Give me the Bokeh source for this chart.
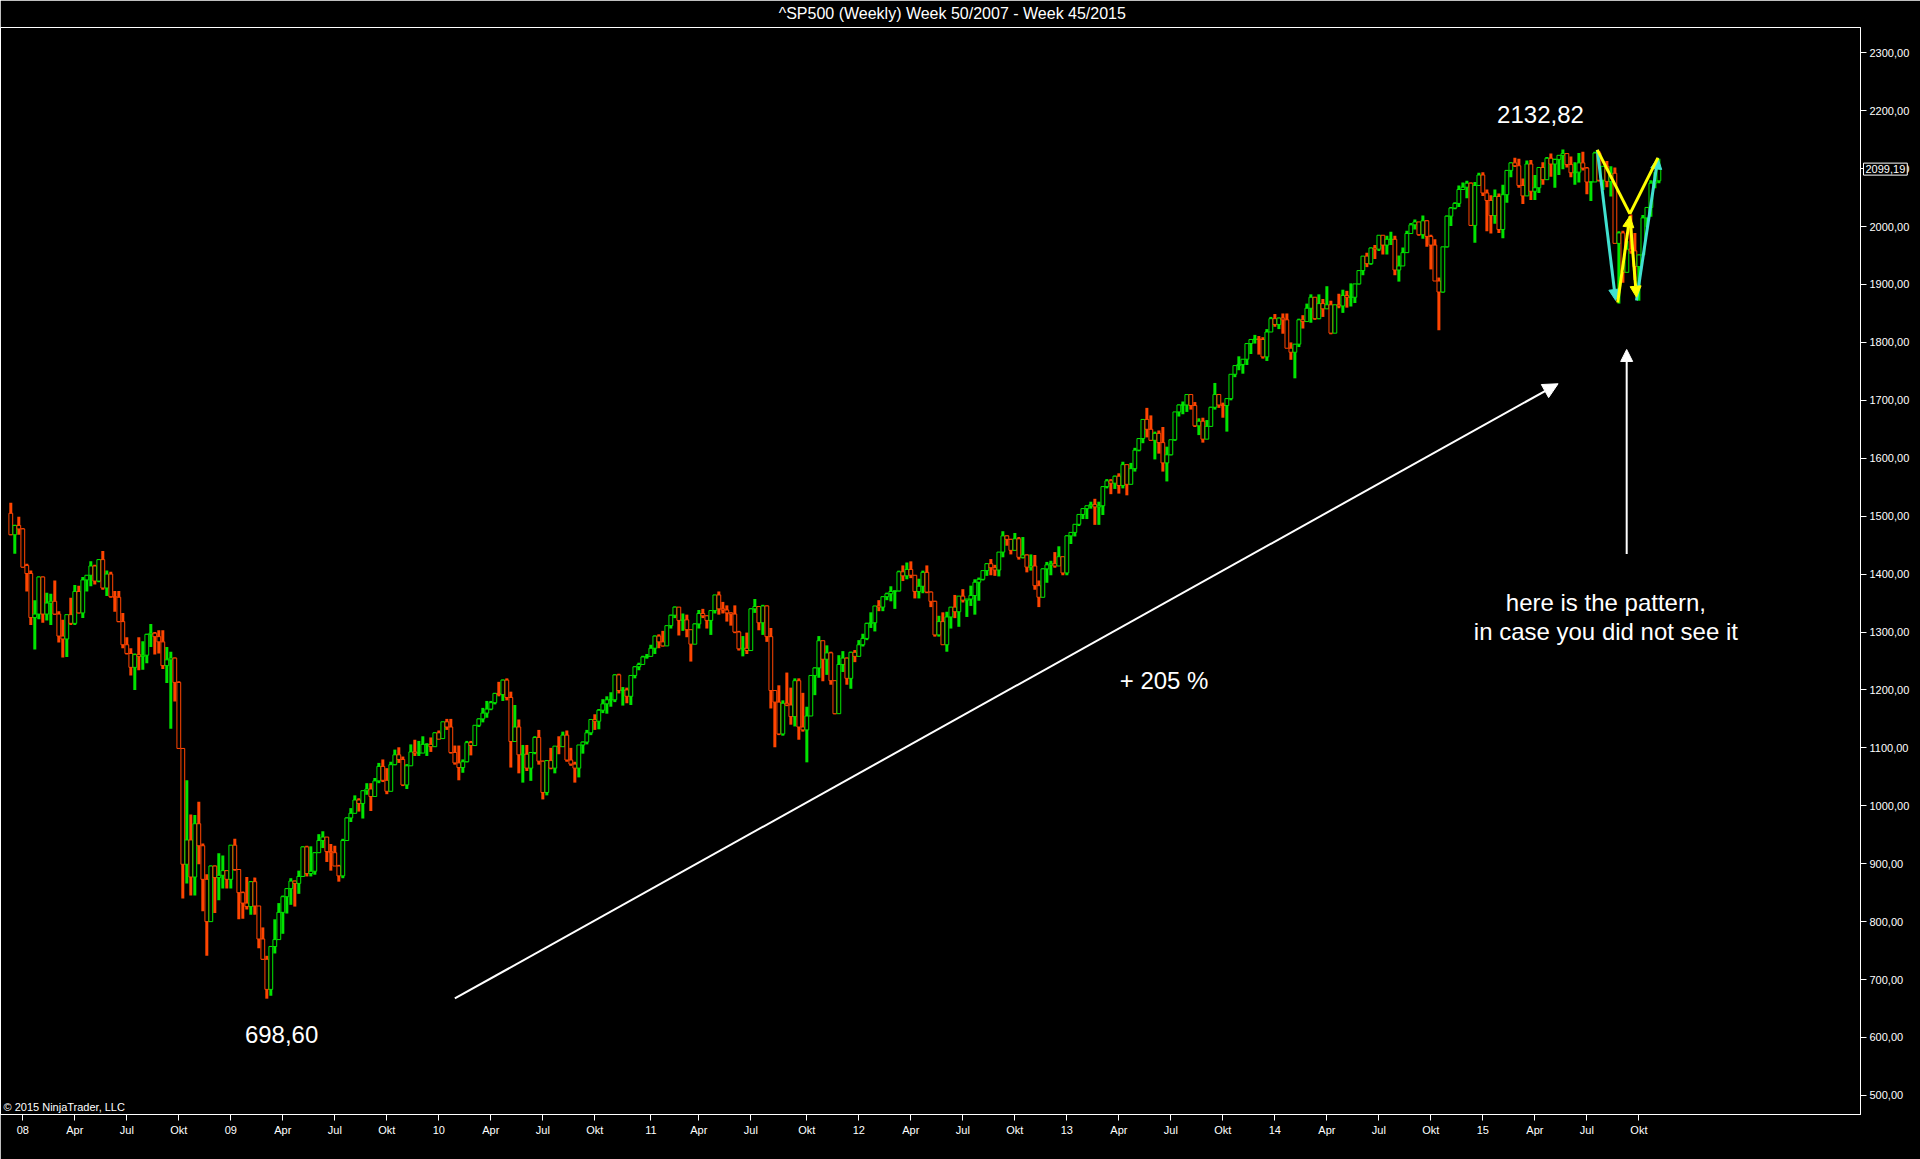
import pandas as pd
from bokeh.plotting import figure
from bokeh.models import (Range1d, SingleIntervalTicker, FixedTicker, CustomJSTickFormatter,
                          Label, Arrow, NormalHead, ColumnDataSource)
from bokeh.embed import file_html
from bokeh.resources import INLINE

# ---------------- data (weekly S&P 500, week 50/2007 .. week 45/2015) ----------------
FIRST_FRIDAY = "2007-12-14"
MONTH_LABELS = {4: "Apr", 7: "Jul", 10: "Okt"}

opens = [
    1505, 1468, 1484,
    # 2008
    1478, 1415, 1401, 1325, 1331, 1395, 1331, 1350, 1353, 1331, 1293, 1288, 1330, 1315, 1370, 1333, 1390, 1398,
    1414, 1388, 1425, 1376, 1400, 1361, 1360, 1318, 1278, 1263, 1239, 1261, 1258, 1260, 1296, 1298, 1292, 1283,
    1242, 1252, 1255, 1213, 1099, 899, 941, 877, 969, 931, 873, 800, 896, 876, 880, 888,
    # 2009
    873, 932, 890, 850, 832, 826, 869, 827, 770, 735, 683, 757, 769, 816, 843, 857, 870, 866, 878, 929, 883, 887,
    919, 940, 946, 921, 919, 896, 879, 940, 979, 987, 1010, 1004, 1026, 1029, 1016, 1043, 1068, 1044, 1025, 1071,
    1088, 1080, 1036, 1069, 1093, 1091, 1091, 1106, 1106, 1102, 1126,
    # 2010
    1116, 1145, 1136, 1092, 1074, 1066, 1076, 1109, 1104, 1139, 1150, 1160, 1167, 1178, 1194, 1192, 1217, 1187,
    1111, 1136, 1088, 1089, 1065, 1092, 1118, 1077, 1023, 1078, 1065, 1103, 1102, 1122, 1079, 1072, 1065, 1105,
    1110, 1126, 1149, 1146, 1165, 1176, 1183, 1183, 1226, 1199, 1200, 1189, 1225, 1240, 1244, 1257,
    # 2011
    1258, 1272, 1293, 1283, 1276, 1311, 1329, 1343, 1320, 1321, 1304, 1279, 1314, 1332, 1328, 1320, 1337, 1364,
    1340, 1338, 1333, 1331, 1300, 1271, 1272, 1268, 1340, 1344, 1316, 1345, 1292, 1199, 1179, 1124, 1177, 1174,
    1154, 1216, 1136, 1131, 1155, 1225, 1238, 1285, 1253, 1264, 1216, 1159, 1244, 1255, 1220, 1265,
    # 2012
    1258, 1278, 1289, 1315, 1316, 1345, 1343, 1361, 1366, 1370, 1371, 1404, 1397, 1408, 1398, 1370, 1379, 1403,
    1369, 1353, 1295, 1318, 1278, 1326, 1343, 1335, 1362, 1355, 1357, 1363, 1386, 1391, 1406, 1418, 1411, 1407,
    1438, 1466, 1460, 1441, 1461, 1429, 1433, 1412, 1414, 1380, 1360, 1409, 1416, 1418, 1414, 1430,
    # 2013
    1402, 1466, 1472, 1486, 1503, 1513, 1518, 1520, 1516, 1518, 1551, 1561, 1557, 1569, 1553, 1589, 1555, 1582,
    1614, 1634, 1667, 1650, 1631, 1643, 1627, 1592, 1606, 1632, 1680, 1692, 1692, 1710, 1691, 1656, 1664, 1633,
    1655, 1688, 1710, 1692, 1691, 1703, 1745, 1760, 1762, 1771, 1798, 1805, 1806, 1805, 1775, 1818,
    # 2014
    1841, 1831, 1842, 1839, 1790, 1783, 1797, 1839, 1836, 1859, 1878, 1841, 1867, 1858, 1865, 1816, 1865, 1863,
    1881, 1878, 1878, 1901, 1924, 1949, 1936, 1963, 1961, 1985, 1968, 1978, 1978, 1925, 1932, 1955, 1988, 2003,
    2008, 1986, 2010, 1983, 1968, 1906, 1887, 1965, 2018, 2032, 2040, 2064, 2068, 2075, 2002, 2071,
    # 2015
    2089, 2058, 2045, 2019, 2052, 1995, 2055, 2097, 2110, 2105, 2071, 2053, 2108, 2061, 2067, 2102, 2081, 2118,
    2108, 2116, 2123, 2126, 2107, 2093, 2094, 2110, 2101, 2077, 2077, 2127, 2080, 2104, 2078, 2092, 1971, 1989,
    1921, 1961, 1958, 1931, 1951, 2015, 2033, 2075, 2079,
]

highs = [
    1523, 1485, 1499,
    # 2008
    1479, 1418, 1406, 1355, 1396, 1396, 1368, 1366, 1389, 1336, 1321, 1330, 1359, 1381, 1380, 1395, 1398, 1422,
    1416, 1426, 1440, 1406, 1404, 1371, 1371, 1333, 1291, 1272, 1263, 1291, 1284, 1297, 1314, 1300, 1303, 1303,
    1274, 1266, 1256, 1215, 1099, 1044, 985, 984, 1007, 935, 882, 897, 897, 918, 914, 888,
    # 2009
    932, 943, 891, 852, 877, 870, 876, 827, 790, 741, 758, 804, 832, 845, 857, 875, 871, 888, 930, 931, 930, 920,
    951, 956, 946, 934, 931, 898, 943, 980, 996, 1018, 1013, 1027, 1039, 1039, 1048, 1074, 1080, 1065, 1076, 1097,
    1101, 1085, 1072, 1106, 1114, 1112, 1120, 1108, 1118, 1127, 1130,
    # 2010
    1145, 1150, 1150, 1104, 1104, 1080, 1112, 1112, 1139, 1151, 1169, 1181, 1181, 1195, 1214, 1218, 1220, 1197,
    1174, 1149, 1105, 1105, 1092, 1120, 1131, 1078, 1079, 1100, 1103, 1120, 1128, 1130, 1100, 1076, 1105, 1111,
    1131, 1149, 1158, 1167, 1184, 1189, 1196, 1227, 1228, 1205, 1204, 1225, 1241, 1247, 1259, 1262,
    # 2011
    1278, 1294, 1296, 1302, 1311, 1330, 1344, 1343, 1332, 1330, 1304, 1315, 1338, 1340, 1329, 1337, 1364, 1370,
    1352, 1346, 1334, 1346, 1302, 1293, 1299, 1341, 1357, 1344, 1347, 1346, 1307, 1199, 1208, 1182, 1230, 1204,
    1220, 1220, 1195, 1171, 1225, 1239, 1293, 1285, 1277, 1266, 1216, 1260, 1267, 1256, 1266, 1269,
    # 2012
    1286, 1297, 1316, 1334, 1345, 1355, 1362, 1368, 1379, 1372, 1406, 1415, 1420, 1422, 1398, 1392, 1406, 1415,
    1370, 1354, 1328, 1334, 1335, 1343, 1364, 1362, 1374, 1357, 1380, 1391, 1394, 1406, 1419, 1426, 1416, 1438,
    1474, 1467, 1461, 1471, 1464, 1464, 1434, 1434, 1433, 1389, 1410, 1421, 1423, 1438, 1448, 1430,
    # 2013
    1467, 1472, 1486, 1503, 1514, 1518, 1525, 1530, 1525, 1552, 1564, 1564, 1570, 1574, 1594, 1589, 1592, 1618,
    1635, 1667, 1687, 1674, 1646, 1648, 1654, 1620, 1632, 1680, 1693, 1698, 1710, 1710, 1697, 1669, 1670, 1666,
    1689, 1730, 1711, 1696, 1704, 1745, 1760, 1776, 1771, 1799, 1806, 1813, 1811, 1809, 1823, 1844,
    # 2014
    1849, 1843, 1850, 1850, 1800, 1797, 1841, 1847, 1867, 1883, 1878, 1883, 1875, 1897, 1872, 1865, 1884, 1891,
    1889, 1902, 1901, 1924, 1949, 1955, 1964, 1968, 1985, 1985, 1984, 1991, 1984, 1950, 1964, 1993, 2006, 2012,
    2008, 2019, 2011, 1986, 1978, 1912, 1965, 2019, 2034, 2042, 2071, 2076, 2079, 2076, 2077, 2093,
    # 2015
    2094, 2064, 2054, 2064, 2057, 2072, 2097, 2111, 2119, 2117, 2083, 2114, 2115, 2089, 2103, 2111, 2120, 2126,
    2117, 2123, 2133, 2127, 2121, 2111, 2127, 2129, 2103, 2078, 2129, 2130, 2104, 2113, 2104, 2102, 1992, 1993,
    1975, 2021, 1989, 1952, 2020, 2034, 2080, 2094, 2117,
]

lows = [
    1467, 1435, 1468,
    # 2008
    1411, 1370, 1312, 1270, 1322, 1316, 1320, 1312, 1330, 1282, 1256, 1257, 1312, 1312, 1332, 1324, 1370, 1379,
    1382, 1386, 1373, 1362, 1359, 1335, 1317, 1272, 1261, 1225, 1200, 1234, 1235, 1246, 1274, 1261, 1263, 1236,
    1212, 1133, 1180, 1099, 840, 866, 845, 845, 899, 818, 741, 800, 815, 837, 857, 857,
    # 2009
    857, 888, 804, 805, 821, 812, 812, 754, 734, 667, 672, 745, 769, 779, 814, 829, 826, 848, 877, 878, 878, 881,
    919, 927, 903, 888, 896, 869, 875, 940, 972, 987, 990, 978, 1019, 991, 1016, 1039, 1041, 1020, 1025, 1070,
    1074, 1034, 1029, 1069, 1086, 1086, 1091, 1086, 1093, 1102, 1115,
    # 2010
    1116, 1131, 1090, 1071, 1044, 1057, 1075, 1087, 1104, 1136, 1144, 1152, 1165, 1175, 1189, 1181, 1182, 1066,
    1111, 1056, 1040, 1060, 1043, 1089, 1071, 1011, 1018, 1063, 1056, 1089, 1102, 1076, 1069, 1040, 1049, 1090,
    1106, 1122, 1131, 1132, 1160, 1159, 1171, 1179, 1194, 1173, 1177, 1174, 1220, 1234, 1244, 1254,
    # 2011
    1258, 1262, 1272, 1275, 1276, 1306, 1324, 1294, 1302, 1291, 1249, 1279, 1306, 1324, 1306, 1295, 1332, 1330,
    1332, 1318, 1311, 1298, 1268, 1258, 1262, 1268, 1333, 1303, 1295, 1283, 1168, 1101, 1122, 1121, 1172, 1140,
    1137, 1114, 1128, 1075, 1155, 1191, 1221, 1215, 1226, 1209, 1158, 1159, 1231, 1209, 1202, 1248,
    # 2012
    1258, 1275, 1286, 1307, 1301, 1336, 1336, 1355, 1353, 1340, 1370, 1388, 1391, 1393, 1358, 1358, 1367, 1367,
    1343, 1292, 1292, 1278, 1266, 1306, 1324, 1309, 1351, 1326, 1345, 1330, 1354, 1389, 1397, 1398, 1397, 1396,
    1429, 1449, 1434, 1441, 1425, 1427, 1403, 1406, 1373, 1343, 1360, 1385, 1398, 1411, 1414, 1398,
    # 2013
    1398, 1452, 1465, 1483, 1495, 1495, 1513, 1485, 1485, 1502, 1548, 1538, 1547, 1539, 1548, 1536, 1555, 1577,
    1612, 1626, 1636, 1630, 1598, 1608, 1577, 1560, 1605, 1630, 1672, 1676, 1680, 1684, 1654, 1640, 1627, 1633,
    1655, 1684, 1687, 1670, 1646, 1700, 1740, 1752, 1746, 1761, 1780, 1798, 1779, 1772, 1768, 1818,
    # 2014
    1827, 1823, 1815, 1790, 1770, 1738, 1792, 1824, 1836, 1834, 1839, 1840, 1844, 1858, 1814, 1816, 1859, 1851,
    1860, 1862, 1868, 1900, 1916, 1930, 1934, 1944, 1958, 1952, 1952, 1968, 1916, 1905, 1932, 1955, 1988, 1995,
    1984, 1979, 1965, 1926, 1906, 1821, 1886, 1964, 2001, 2030, 2034, 2064, 2049, 2002, 1972, 2070,
    # 2015
    2053, 1992, 1988, 2005, 1989, 1980, 2041, 2085, 2103, 2067, 2039, 2053, 2046, 2046, 2058, 2072, 2081, 2086,
    2067, 2089, 2099, 2102, 2085, 2072, 2076, 2097, 2056, 2044, 2077, 2078, 2063, 2068, 2052, 1971, 1867, 1903,
    1921, 1953, 1908, 1872, 1951, 1999, 2017, 2066, 2075,
]

closes = [
    1468, 1484, 1478,
    # 2008
    1412, 1401, 1325, 1331, 1395, 1331, 1350, 1353, 1331, 1293, 1288, 1330, 1315, 1370, 1333, 1390, 1398, 1414,
    1388, 1425, 1376, 1400, 1361, 1360, 1318, 1278, 1263, 1239, 1261, 1258, 1260, 1296, 1298, 1292, 1283, 1242,
    1252, 1255, 1213, 1099, 899, 941, 877, 969, 931, 873, 800, 896, 876, 880, 888, 873,
    # 2009
    932, 890, 850, 832, 826, 869, 827, 770, 735, 683, 757, 769, 816, 843, 857, 870, 866, 878, 929, 883, 887, 919,
    940, 946, 921, 919, 896, 879, 940, 979, 987, 1010, 1004, 1026, 1029, 1016, 1043, 1068, 1044, 1025, 1071, 1088,
    1080, 1036, 1069, 1093, 1091, 1091, 1106, 1106, 1102, 1126, 1115,
    # 2010
    1145, 1136, 1092, 1074, 1066, 1076, 1109, 1104, 1139, 1150, 1160, 1167, 1178, 1194, 1192, 1217, 1187, 1111,
    1136, 1088, 1089, 1065, 1092, 1118, 1077, 1023, 1078, 1065, 1103, 1102, 1122, 1079, 1072, 1065, 1105, 1110,
    1126, 1149, 1146, 1165, 1176, 1183, 1183, 1226, 1199, 1200, 1189, 1225, 1240, 1244, 1257, 1258,
    # 2011
    1272, 1293, 1283, 1276, 1311, 1329, 1343, 1320, 1321, 1304, 1279, 1314, 1332, 1328, 1320, 1337, 1364, 1340,
    1338, 1333, 1331, 1300, 1271, 1272, 1268, 1340, 1344, 1316, 1345, 1292, 1199, 1179, 1124, 1177, 1174, 1154,
    1216, 1136, 1131, 1155, 1225, 1238, 1285, 1253, 1264, 1216, 1159, 1244, 1255, 1220, 1265, 1258,
    # 2012
    1278, 1289, 1315, 1316, 1345, 1343, 1361, 1366, 1370, 1371, 1404, 1397, 1408, 1398, 1370, 1379, 1403, 1369,
    1353, 1295, 1318, 1278, 1326, 1343, 1335, 1362, 1355, 1357, 1363, 1386, 1391, 1406, 1418, 1411, 1407, 1438,
    1466, 1460, 1441, 1461, 1429, 1433, 1412, 1414, 1380, 1360, 1409, 1416, 1418, 1414, 1430, 1402,
    # 2013
    1466, 1472, 1486, 1503, 1513, 1518, 1520, 1516, 1518, 1551, 1561, 1557, 1569, 1553, 1589, 1555, 1582, 1614,
    1634, 1667, 1650, 1631, 1643, 1627, 1592, 1606, 1632, 1680, 1692, 1692, 1710, 1691, 1656, 1664, 1633, 1655,
    1688, 1710, 1692, 1691, 1703, 1745, 1760, 1762, 1771, 1798, 1805, 1806, 1805, 1775, 1818, 1841,
    # 2014
    1831, 1842, 1839, 1790, 1783, 1797, 1839, 1836, 1859, 1878, 1841, 1867, 1858, 1865, 1816, 1865, 1863, 1881,
    1878, 1878, 1901, 1924, 1949, 1936, 1963, 1961, 1985, 1968, 1978, 1978, 1925, 1932, 1955, 1988, 2003, 2008,
    1986, 2010, 1983, 1968, 1906, 1887, 1965, 2018, 2032, 2040, 2064, 2068, 2075, 2002, 2071, 2089,
    # 2015
    2058, 2045, 2019, 2052, 1995, 2055, 2097, 2110, 2105, 2071, 2053, 2108, 2061, 2067, 2102, 2081, 2118, 2108,
    2116, 2123, 2126, 2107, 2093, 2094, 2110, 2101, 2077, 2077, 2127, 2080, 2104, 2078, 2092, 1971, 1989, 1921,
    1961, 1958, 1931, 1951, 2015, 2033, 2075, 2079, 2099.19,
]

n = len(closes)
for name, arr in (("opens", opens), ("highs", highs), ("lows", lows)):
    if len(arr) != n:
        raise SystemExit(f"{name} has {len(arr)} values, closes has {n}")

# ---------------- derived columns ----------------
dates = pd.date_range(FIRST_FRIDAY, periods=n, freq="W-FRI")
xs = list(range(n))
UP, DOWN = "#00E400", "#FF4500"
colors = [UP if c >= o else DOWN for o, c in zip(opens, closes)]
src = ColumnDataSource(dict(
    x=xs, h=highs, l=lows,
    top=[max(o, c) for o, c in zip(opens, closes)],
    bot=[min(o, c) for o, c in zip(opens, closes)],
    color=colors,
))

tick_pos, tick_txt = [], []
for i, d in enumerate(dates):
    if d.month in (1, 4, 7, 10) and i > 0 and dates[i - 1].month != d.month:
        tick_pos.append(i)
        tick_txt.append(f"{d.year % 100:02d}" if d.month == 1 else MONTH_LABELS[d.month])

FONT = "Liberation Sans"
W, H = 1920, 1159
TOP, BOTTOM, RIGHT = 27, 45, 60
Y0, Y1 = 467.0, 2343.7
FRAME_H = H - TOP - BOTTOM
PX_PER_UNIT = FRAME_H / (Y1 - Y0)

p = figure(width=W, height=H, output_backend="svg", toolbar_location=None, title=None,
           x_range=Range1d(-2.575, 462.4), y_range=Range1d(Y0, Y1),
           y_axis_location="right", background_fill_color="black", border_fill_color="black",
           min_border_left=0, min_border_right=RIGHT, min_border_top=TOP, min_border_bottom=BOTTOM)
p.grid.visible = False
p.outline_line_color = "white"
p.outline_line_width = 1

for ax in (p.xaxis[0], p.yaxis[0]):
    ax.axis_line_color = "white"
    ax.major_tick_line_color = "white"
    ax.major_tick_out = 6
    ax.major_tick_in = 0
    ax.minor_tick_line_color = None
    ax.major_label_text_color = "white"
    ax.major_label_text_font = FONT
    ax.major_label_text_font_size = "11px"
    ax.major_label_standoff = 3

p.yaxis[0].ticker = SingleIntervalTicker(interval=100)
p.yaxis[0].formatter = CustomJSTickFormatter(code="return tick.toFixed(2).replace('.', ',');")
p.xaxis[0].ticker = FixedTicker(ticks=tick_pos)
p.xaxis[0].formatter = CustomJSTickFormatter(
    args=dict(pos=tick_pos, txt=tick_txt),
    code="const i = pos.indexOf(Math.round(tick)); return i >= 0 ? txt[i] : '';")

# ---------------- candles ----------------
p.segment(x0="x", y0="l", x1="x", y1="h", line_color="color", line_width=3, source=src)
p.vbar(x="x", top="top", bottom="bot", width=0.95, fill_color="black",
       line_color="color", line_width=1, source=src)

# ---------------- texts ----------------
# title: placed in the (unclipped) top panel, 14 px above the frame
title_y = Y1 + 14 / PX_PER_UNIT
p.add_layout(Label(x=954, y=title_y, x_units="screen", y_units="data",
                   text="^SP500 (Weekly)  Week 50/2007 - Week 45/2015", text_align="center",
                   text_baseline="middle", text_color="white", text_font=FONT,
                   text_font_size="16px"), "above")
p.add_layout(Label(x=3, y=2, x_units="screen", y_units="screen", text="\u00a9 2015 NinjaTrader, LLC",
                   text_align="left", text_baseline="bottom", text_color="white",
                   text_font=FONT, text_font_size="11px"))
last = closes[-1]
p.add_layout(Label(x=1863, y=last, x_units="screen", y_units="data",
                   text=f"{last:.2f}".replace(".", ","), text_align="left", text_baseline="middle",
                   text_color="white", text_font=FONT, text_font_size="11px",
                   border_line_color="white", background_fill_color="black", padding=2), "below")

big = dict(text_color="white", text_font=FONT, text_font_size="24px",
           text_align="center", text_baseline="middle")
p.add_layout(Label(x=382.4, y=2193.5, text="2132,82", **big))
p.add_layout(Label(x=67.7, y=605.0, text="698,60", **big))
p.add_layout(Label(x=288.3, y=1217.0, text="+ 205 %", **big))
p.add_layout(Label(x=398.75, y=1350.3, text="here is the pattern,", **big))
p.add_layout(Label(x=398.75, y=1301.6, text="in case you did not see it", **big))

# ---------------- arrows ----------------
def head(col, size):
    return NormalHead(size=size, fill_color=col, line_color=col, line_width=1)

p.add_layout(Arrow(x_start=111.0, y_start=667.3, x_end=386.8, y_end=1728.6,
                   line_color="white", line_width=2, end=head("white", 15)))
p.add_layout(Arrow(x_start=403.95, y_start=1434.7, x_end=403.95, y_end=1787.8,
                   line_color="white", line_width=2, end=head("white", 12)))

CYAN, YELLOW = "#40E0D0", "#FFFF00"
A = (396.6, 2132.5)
M = (404.75, 2022.0)
R = (411.75, 2118.7)
p.add_layout(Arrow(x_start=A[0], y_start=A[1], x_end=401.2, y_end=1872.4,
                   line_color=CYAN, line_width=3, end=head(CYAN, 11)))
p.add_layout(Arrow(x_start=406.4, y_start=1872.4, x_end=R[0], y_end=R[1],
                   line_color=CYAN, line_width=3, end=head(CYAN, 11)))
p.add_layout(Arrow(x_start=A[0], y_start=A[1], x_end=M[0], y_end=M[1],
                   line_color=YELLOW, line_width=3, end=None))
p.add_layout(Arrow(x_start=M[0], y_start=M[1], x_end=R[0], y_end=R[1],
                   line_color=YELLOW, line_width=3, end=None))
p.add_layout(Arrow(x_start=401.7, y_start=1868.9, x_end=M[0], y_end=M[1] - 4,
                   line_color=YELLOW, line_width=3, end=head(YELLOW, 11)))
p.add_layout(Arrow(x_start=M[0], y_start=M[1] - 4, x_end=406.4, y_end=1878.0,
                   line_color=YELLOW, line_width=3, end=head(YELLOW, 11)))

open("out.html", "w").write(file_html(p, INLINE))
